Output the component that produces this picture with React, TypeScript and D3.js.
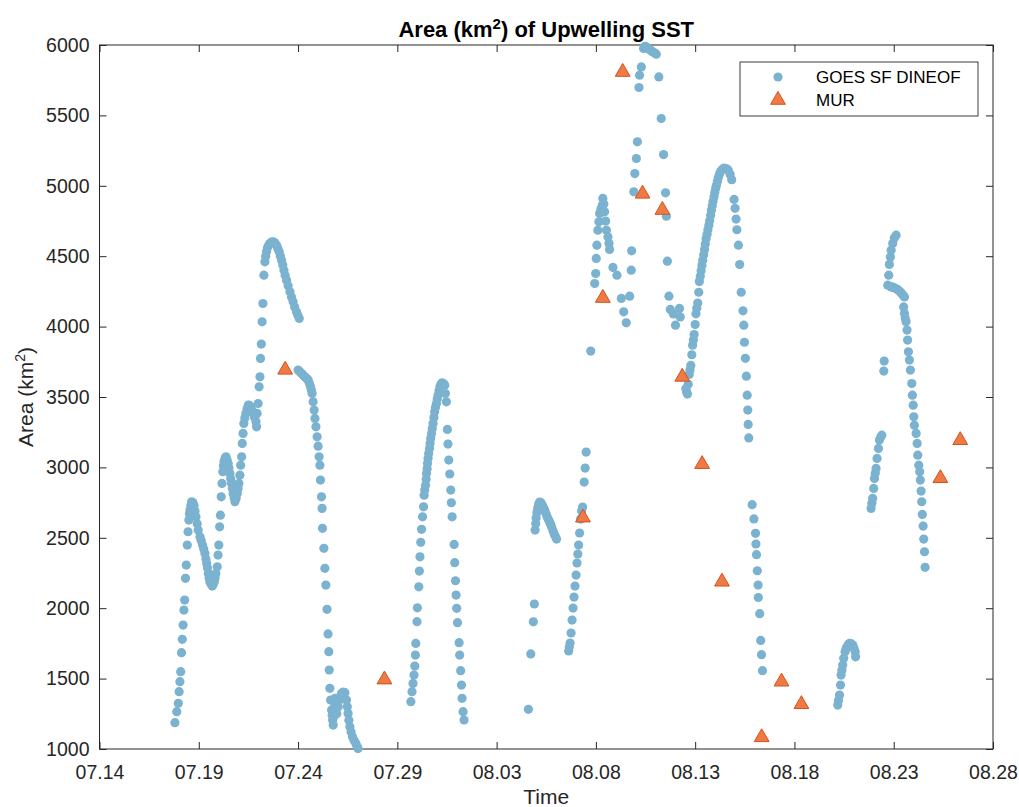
import * as d3 from "d3";
import { useEffect, useRef } from "react";

// time is given as day of July (Aug 1 = 32), area in km^2
const goesJul18: [number, number][] = [
  [17.80, 1187], [17.89, 1265], [17.97, 1325], [18.01, 1407], [18.05, 1478], [18.09, 1549],
  [18.13, 1684], [18.17, 1779], [18.21, 1880], [18.25, 1987], [18.29, 2058], [18.33, 2212],
  [18.37, 2306], [18.42, 2448], [18.46, 2543], [18.50, 2626], [18.53, 2670], [18.56, 2697],
  [18.60, 2730], [18.64, 2756], [18.70, 2750], [18.76, 2732], [18.81, 2690], [18.86, 2649],
  [18.92, 2600], [18.97, 2555], [19.06, 2507], [19.12, 2480], [19.19, 2448], [19.25, 2420],
  [19.31, 2389], [19.36, 2350], [19.40, 2318], [19.44, 2285], [19.48, 2247], [19.52, 2215],
  [19.56, 2188], [19.62, 2170], [19.68, 2157], [19.73, 2170], [19.78, 2188], [19.82, 2215],
  [19.86, 2247], [19.93, 2294], [19.97, 2377], [20.01, 2448], [20.05, 2578], [20.09, 2661],
  [20.13, 2791], [20.17, 2886], [20.21, 2969], [20.24, 3010], [20.27, 3040], [20.32, 3065],
  [20.37, 3075], [20.42, 3055], [20.48, 3028], [20.52, 2995], [20.57, 2957], [20.61, 2920],
  [20.65, 2886], [20.69, 2850], [20.73, 2815], [20.78, 2785], [20.82, 2756], [20.88, 2780],
  [20.94, 2815], [20.98, 2850], [21.02, 2886], [21.07, 2945], [21.11, 3016], [21.16, 3075],
  [21.19, 3170], [21.23, 3241], [21.27, 3312], [21.32, 3350], [21.37, 3383], [21.43, 3415],
  [21.49, 3442], [21.55, 3440], [21.61, 3430], [21.68, 3405], [21.74, 3383], [21.81, 3355],
  [21.88, 3324], [21.91, 3288], [21.94, 3383], [21.99, 3454], [22.04, 3572], [22.08, 3643],
  [22.11, 3774], [22.15, 3876], [22.19, 4034], [22.23, 4164], [22.28, 4365], [22.33, 4460],
  [22.37, 4500], [22.41, 4531], [22.46, 4560], [22.52, 4578], [22.58, 4590], [22.66, 4600],
  [22.75, 4602], [22.83, 4595], [22.92, 4578], [22.98, 4555], [23.05, 4531], [23.11, 4500],
  [23.17, 4472], [23.23, 4437], [23.29, 4401], [23.35, 4365], [23.42, 4330], [23.50, 4290],
  [23.59, 4247], [23.67, 4210], [23.75, 4176], [23.83, 4140], [23.92, 4105], [23.99, 4080],
  [24.06, 4058],
];

const goesJul24: [number, number][] = [
  [24.00, 3691], [24.09, 3680], [24.18, 3667], [24.26, 3655], [24.34, 3643], [24.43, 3632],
  [24.51, 3620], [24.57, 3598], [24.63, 3572], [24.67, 3550], [24.71, 3525], [24.76, 3466],
  [24.81, 3407], [24.85, 3348], [24.90, 3288], [24.96, 3217], [25.01, 3151], [25.06, 3075],
  [25.10, 3016], [25.13, 2910], [25.18, 2791], [25.21, 2709], [25.23, 2567], [25.30, 2425],
  [25.35, 2283], [25.40, 2164], [25.46, 1992], [25.51, 1817], [25.55, 1691], [25.57, 1561],
  [25.60, 1431], [25.64, 1348], [25.69, 1277], [25.72, 1240], [25.74, 1206], [25.77, 1170],
  [25.80, 1230], [25.83, 1300], [25.86, 1360], [25.90, 1300], [25.95, 1250], [26.02, 1300],
  [26.10, 1350], [26.19, 1395], [26.27, 1405], [26.36, 1400], [26.44, 1348], [26.48, 1300],
  [26.52, 1253], [26.56, 1205], [26.61, 1158], [26.67, 1120], [26.74, 1087], [26.82, 1060],
  [26.91, 1040], [26.97, 1020], [27.02, 1003],
];

const goesJul30: [number, number][] = [
  [29.68, 1336], [29.74, 1407], [29.79, 1466], [29.84, 1525], [29.88, 1589], [29.91, 1667],
  [29.93, 1750], [29.99, 1904], [30.01, 2003], [30.08, 2152], [30.11, 2264], [30.14, 2365],
  [30.18, 2468], [30.22, 2560], [30.27, 2649], [30.32, 2720], [30.35, 2803], [30.38, 2840],
  [30.42, 2874], [30.45, 2915], [30.47, 2957], [30.50, 2990], [30.52, 3028], [30.55, 3065],
  [30.58, 3099], [30.62, 3135], [30.65, 3170], [30.68, 3205], [30.72, 3241], [30.76, 3277],
  [30.80, 3312], [30.84, 3355], [30.88, 3395], [30.92, 3425], [30.97, 3454], [31.01, 3485],
  [31.05, 3513], [31.10, 3545], [31.14, 3572], [31.20, 3590], [31.25, 3601], [31.32, 3595],
  [31.39, 3584], [31.42, 3525], [31.47, 3466], [31.52, 3270], [31.55, 3166], [31.59, 3052],
  [31.64, 2953], [31.69, 2839], [31.72, 2749], [31.76, 2649], [31.86, 2453], [31.89, 2323],
  [31.93, 2195], [31.96, 2093], [31.99, 1999], [32.03, 1897], [32.11, 1755], [32.14, 1667],
  [32.19, 1556], [32.23, 1454], [32.26, 1360], [32.31, 1265], [32.36, 1206],
];

const goesAug04: [number, number][] = [
  [35.60, 1282], [35.72, 1675], [35.85, 1903], [35.90, 2030],
  [35.94, 2555], [35.97, 2600], [35.99, 2640], [36.03, 2680], [36.07, 2711], [36.12, 2740],
  [36.17, 2754], [36.22, 2750], [36.27, 2740], [36.32, 2725], [36.37, 2711], [36.42, 2695],
  [36.47, 2676], [36.52, 2658], [36.57, 2640], [36.62, 2626], [36.67, 2612], [36.72, 2594],
  [36.77, 2576], [36.84, 2550], [36.90, 2527], [36.96, 2510], [37.02, 2491],
  [37.63, 1696], [37.66, 1725], [37.70, 1753], [37.75, 1824], [37.80, 1916], [37.85, 2001],
  [37.90, 2079], [37.95, 2157], [38.00, 2235], [38.05, 2321], [38.09, 2385], [38.13, 2448],
  [38.18, 2534], [38.23, 2633], [38.28, 2690], [38.33, 2718], [38.41, 2896], [38.46, 2995],
  [38.51, 3109], [38.74, 3826],
];

const goesAug08: [number, number][] = [
  [38.94, 4306], [38.99, 4377], [39.02, 4484], [39.05, 4578], [39.10, 4685], [39.15, 4744],
  [39.19, 4803], [39.25, 4835], [39.32, 4862], [39.35, 4910], [39.40, 4870], [39.44, 4815],
  [39.49, 4750], [39.53, 4685], [39.61, 4637], [39.66, 4590], [39.69, 4548], [39.86, 4420],
  [40.06, 4365], [40.28, 4200], [40.40, 4105], [40.53, 4027], [40.70, 4216], [40.78, 4401],
  [40.80, 4538], [40.91, 4957], [40.96, 5087], [41.04, 5194], [41.09, 5312], [41.17, 5698],
  [41.20, 5785], [41.29, 5844], [41.40, 5975], [41.47, 5990], [41.54, 5986], [41.62, 5975],
  [41.70, 5968], [41.78, 5960], [41.87, 5951], [41.95, 5945], [42.04, 5935], [42.17, 5773],
  [42.29, 5478], [42.41, 5222], [42.51, 4950], [42.55, 4784], [42.60, 4465], [42.68, 4216],
  [42.75, 4122], [42.90, 4090], [43.01, 4010], [43.21, 4129], [43.25, 4069],
];

const goesAug12: [number, number][] = [
  [43.53, 3559], [43.57, 3535], [43.61, 3521], [43.65, 3590], [43.70, 3660], [43.74, 3692],
  [43.78, 3724], [43.83, 3800], [43.87, 3868], [43.91, 3905], [43.95, 3944], [44.00, 4015],
  [44.04, 4091], [44.08, 4130], [44.13, 4167], [44.18, 4244], [44.21, 4320], [44.26, 4358],
  [44.30, 4396], [44.34, 4434], [44.38, 4472], [44.43, 4510], [44.47, 4548], [44.51, 4586],
  [44.55, 4624], [44.60, 4656], [44.64, 4688], [44.69, 4720], [44.73, 4751], [44.78, 4790],
  [44.82, 4827], [44.86, 4858], [44.90, 4890], [44.95, 4922], [44.99, 4954], [45.03, 4980],
  [45.07, 5004], [45.12, 5030], [45.16, 5055], [45.22, 5080], [45.28, 5101], [45.36, 5115],
  [45.45, 5126], [45.56, 5122], [45.67, 5111], [45.76, 5080], [45.84, 5043], [45.96, 4903],
  [46.01, 4840], [46.06, 4764], [46.10, 4688], [46.18, 4578], [46.24, 4441], [46.32, 4244],
  [46.41, 4112], [46.45, 4010], [46.48, 3889], [46.53, 3775], [46.58, 3648], [46.62, 3513],
  [46.65, 3407], [46.67, 3305], [46.70, 3209],
  [46.87, 2735], [46.96, 2634], [47.04, 2532], [47.06, 2456], [47.09, 2380], [47.13, 2266],
  [47.17, 2164], [47.18, 2076], [47.25, 1961], [47.30, 1771], [47.34, 1670], [47.39, 1556],
];

const goesAug20: [number, number][] = [
  [51.18, 1312], [51.22, 1345], [51.27, 1383], [51.32, 1454], [51.35, 1525], [51.39, 1560],
  [51.43, 1596], [51.48, 1644], [51.55, 1691], [51.60, 1712], [51.65, 1726], [51.71, 1740],
  [51.77, 1750], [51.85, 1748], [51.94, 1738], [52.00, 1715], [52.06, 1691], [52.08, 1655],
];

const goesAug22: [number, number][] = [
  [52.86, 2709], [52.90, 2745], [52.94, 2780], [52.99, 2851], [53.03, 2922], [53.07, 2958],
  [53.11, 2993], [53.16, 3064], [53.23, 3135], [53.28, 3194], [53.34, 3215], [53.40, 3229],
  [53.50, 3684], [53.52, 3755], [53.70, 4294], [53.75, 4365], [53.78, 4441], [53.83, 4495],
  [53.87, 4543], [53.95, 4590], [54.03, 4630], [54.12, 4649],
  [53.87, 4282], [53.95, 4280], [54.03, 4275], [54.13, 4268], [54.23, 4259], [54.32, 4248],
  [54.40, 4235], [54.47, 4222], [54.54, 4211], [54.50, 4140], [54.54, 4093], [54.58, 4060],
  [54.62, 4034], [54.67, 3975], [54.70, 3904], [54.74, 3821], [54.79, 3762], [54.84, 3691],
  [54.91, 3596], [54.94, 3513], [54.98, 3442], [55.01, 3359], [55.04, 3300], [55.13, 3241],
  [55.18, 3170], [55.21, 3087], [55.26, 3016], [55.31, 2969], [55.34, 2910], [55.38, 2832],
  [55.41, 2756], [55.44, 2666], [55.48, 2583], [55.51, 2491], [55.55, 2401], [55.58, 2290],
];

const murDays = [23.35, 28.35, 38.35, 39.35, 40.35, 41.35, 42.35, 43.35, 44.35, 45.35, 47.35, 48.35, 49.35, 56.35, 57.35];
const murArea = [3700, 1500, 2650, 4210, 5815, 4950, 4835, 3650, 3030, 2195, 1090, 1485, 1325, 2930, 3200];

const tickDays = [14, 19, 24, 29, 34, 39, 44, 49, 54, 59];
const areaTicks = [1000, 1500, 2000, 2500, 3000, 3500, 4000, 4500, 5000, 5500, 6000];
const seriesNames = ["GOES SF DINEOF", "MUR"];

const dayToDate = (d: number) => new Date(Date.UTC(2019, 6, 0) + d * 864e5);

export default function App() {
  const width = 1019;
  const height = 807;
  const marginTop = 45;
  const marginRight = 26;
  const marginBottom = 58;
  const marginLeft = 99.5;
  const font = "'Liberation Sans', Arial, Helvetica, sans-serif";
  const blue = "#7ab2d0";
  const orange = "#ee7a45";
  const axisColor = "#262626";
  const dotR = 4.6;

  const svgRef = useRef<SVGSVGElement>(null);

  useEffect(() => {
    const svg = d3.select(svgRef.current);
    svg.selectAll("*").remove();

    const goes = [...goesJul18, ...goesJul24, ...goesJul30, ...goesAug04, ...goesAug08, ...goesAug12, ...goesAug20, ...goesAug22];

    const x = d3.scaleUtc([dayToDate(14), dayToDate(59)], [marginLeft, width - marginRight]);
    const y = d3.scaleLinear([1000, 6000], [height - marginBottom, marginTop]);

    // axes, ticks pointing inwards like matlab
    const ticksX = tickDays.map(dayToDate);
    const bottom = svg.append("g")
      .attr("transform", `translate(0, ${height - marginBottom})`)
      .call(d3.axisBottom(x).tickValues(ticksX).tickFormat(d3.utcFormat("%m.%d") as any).tickSize(-7).tickPadding(16));
    svg.append("g")
      .attr("transform", `translate(0, ${marginTop})`)
      .call(d3.axisTop(x).tickValues(ticksX).tickFormat(() => "").tickSize(-7));
    const left = svg.append("g")
      .attr("transform", `translate(${marginLeft}, 0)`)
      .call(d3.axisLeft(y).tickValues(areaTicks).tickFormat(d3.format("d")).tickSize(-7).tickPadding(10));
    svg.append("g")
      .attr("transform", `translate(${width - marginRight}, 0)`)
      .call(d3.axisRight(y).tickValues(areaTicks).tickFormat(() => "").tickSize(-7));

    svg.selectAll(".domain").remove();
    svg.selectAll(".tick line").attr("stroke", axisColor);
    [bottom, left].forEach(g => g.selectAll("text")
      .attr("font-family", font)
      .attr("font-size", 19.5)
      .attr("fill", axisColor));

    svg.append("rect")
      .attr("x", marginLeft)
      .attr("y", marginTop)
      .attr("width", width - marginRight - marginLeft)
      .attr("height", height - marginBottom - marginTop)
      .attr("fill", "none")
      .attr("stroke", axisColor)
      .attr("stroke-width", 1);

    // GOES points
    svg.append("g")
      .selectAll("circle")
      .data(goes)
      .join("circle")
      .attr("cx", d => x(dayToDate(d[0])))
      .attr("cy", d => y(d[1]))
      .attr("r", dotR)
      .attr("fill", blue);

    // MUR triangles
    const tri = d3.symbol(d3.symbolTriangle, 95);
    svg.append("g")
      .selectAll("path")
      .data(murDays)
      .join("path")
      .attr("transform", (d, i) => `translate(${x(dayToDate(d))}, ${y(murArea[i]) + 1})`)
      .attr("d", tri())
      .attr("fill", orange)
      .attr("stroke", "#d4521c")
      .attr("stroke-width", 1);

    // title
    const title = svg.append("text")
      .attr("x", (marginLeft + width - marginRight) / 2)
      .attr("y", 37)
      .attr("text-anchor", "middle")
      .attr("font-family", font)
      .attr("font-weight", "bold")
      .attr("font-size", 22)
      .attr("fill", "#000");
    title.append("tspan").text("Area (km");
    title.append("tspan").attr("dy", -8).attr("font-size", 15).text("2");
    title.append("tspan").attr("dy", 8).text(") of Upwelling SST");

    // axis labels
    svg.append("text")
      .attr("x", (marginLeft + width - marginRight) / 2)
      .attr("y", 804)
      .attr("text-anchor", "middle")
      .attr("font-family", font)
      .attr("font-size", 21)
      .attr("fill", axisColor)
      .text("Time");

    const yLabel = svg.append("text")
      .attr("transform", `translate(33, ${(marginTop + height - marginBottom) / 2}) rotate(-90)`)
      .attr("text-anchor", "middle")
      .attr("font-family", font)
      .attr("font-size", 21)
      .attr("fill", axisColor);
    yLabel.append("tspan").text("Area (km");
    yLabel.append("tspan").attr("dy", -8).attr("font-size", 14).text("2");
    yLabel.append("tspan").attr("dy", 8).text(")");

    // legend
    const legend = svg.append("g");
    legend.append("rect")
      .attr("x", 740)
      .attr("y", 62)
      .attr("width", 238)
      .attr("height", 54)
      .attr("fill", "#fff")
      .attr("stroke", axisColor)
      .attr("stroke-width", 0.9);
    legend.append("circle")
      .attr("cx", 778)
      .attr("cy", 77)
      .attr("r", dotR)
      .attr("fill", blue);
    legend.append("path")
      .attr("transform", "translate(778, 100)")
      .attr("d", tri())
      .attr("fill", orange)
      .attr("stroke", "#d4521c");
    legend.selectAll("text.item")
      .data(seriesNames)
      .join("text")
      .attr("class", "item")
      .attr("x", 816)
      .attr("y", (d, i) => 83 + i * 23)
      .attr("font-family", font)
      .attr("font-size", 17)
      .attr("fill", "#000")
      .text(d => d);
  }, []);

  return (
    <svg
      ref={svgRef}
      width={width}
      height={height}
      style={{ position: "absolute", left: 0, top: 0, background: "#fff" }}
      xmlns="http://www.w3.org/2000/svg"
    />
  );
}
